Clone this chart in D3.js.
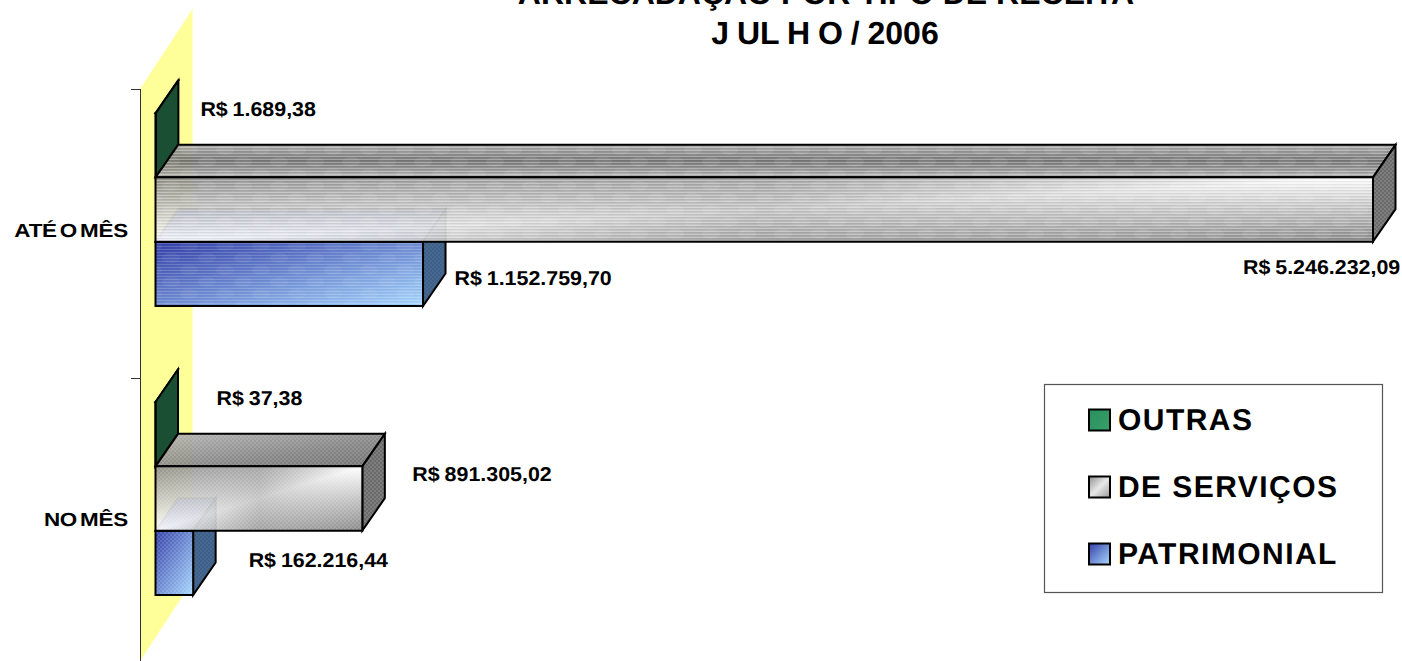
<!DOCTYPE html>
<html><head><meta charset="utf-8">
<script src="https://cdnjs.cloudflare.com/ajax/libs/d3/7.8.5/d3.min.js"></script>
<style>html,body{margin:0;padding:0;background:#fff;overflow:hidden}svg{display:block}text{font-family:"Liberation Sans",Arial,sans-serif;font-weight:bold;fill:#000;text-rendering:geometricPrecision}</style>
</head><body><svg id="c" width="1402" height="661"></svg>
<script>
const categories = ["ATÉ O MÊS", "NO MÊS"];
const seriesNames = ["OUTRAS", "DE SERVIÇOS", "PATRIMONIAL"];
const outras = [1689.38, 37.38];
const servicos = [5246232.09, 891305.02];
const patrimonial = [1152759.70, 162216.44];
const titleLines = ["ARRECADAÇÃO POR TIPO DE RECEITA", "J UL H O / 2006"];

const svg = d3.select("#c");
const defs = svg.append("defs");
const br = d3.formatLocale({decimal:",",thousands:".",grouping:[3],currency:["R$ ",""]}).format("$,.2f");

function grad(id, stops, x2, y2){
  const g = defs.append("linearGradient").attr("id",id).attr("x1",0).attr("y1",0).attr("x2",x2==null?1:x2).attr("y2",y2==null?1:y2);
  stops.forEach(s=>g.append("stop").attr("offset",s[0]).attr("stop-color",s[1]).attr("stop-opacity",s[2]==null?1:s[2]));
}
grad("gServ",[[0,"#848484",.9],[.5,"#ffffff",.9],[1,"#7c7c7c",.9]]);
grad("gServMid",[[0,"#707070",0],[.5,"#707070",.4],[1,"#707070",0]],1,0);
grad("gServTop",[[0,"#a6a6a6",.92],[.5,"#6c6c6c",.92],[1,"#b0b0b0",.92]],0,1);
grad("gServTop2",[[0,"#b0b0b0",.92],[.6,"#7c7c7c",.92],[1,"#666",.92]]);
grad("gPat",[[0,"#3440a8"],[1,"#a9d8ff"]]);
grad("gOut",[[0,"#2a8f5c"],[1,"#38a06c"]]);
grad("gLegS",[[0,"#8e8e8e"],[.5,"#e8e8e8"],[1,"#9a9a9a"]]);

function stripes(id,op,dark,blot){
  const p = defs.append("pattern").attr("id",id).attr("patternUnits","userSpaceOnUse").attr("width",36).attr("height",24);
  d3.range(0,24,3).forEach(y=>{
    p.append("rect").attr("x",0).attr("y",y).attr("width",36).attr("height",1).attr("fill","#fff").attr("opacity",op);
    p.append("rect").attr("x",0).attr("y",y+1).attr("width",36).attr("height",1).attr("fill","#000").attr("opacity",dark);
  });
  [[9,6],[27,18]].forEach(c=>p.append("ellipse").attr("cx",c[0]).attr("cy",c[1]).attr("rx",9).attr("ry",5).attr("fill","#fff").attr("opacity",blot));
}
stripes("stServ",.3,.06,.07);
stripes("stPat",.17,.03,.05);
function dots(id,color,op){
  const p = defs.append("pattern").attr("id",id).attr("patternUnits","userSpaceOnUse").attr("width",4).attr("height",4);
  p.append("circle").attr("cx",1).attr("cy",1).attr("r",.8).attr("fill",color).attr("opacity",op);
  p.append("circle").attr("cx",3).attr("cy",3).attr("r",.8).attr("fill",color).attr("opacity",op);
}
dots("dtLight","#fff",.3);
dots("dtDark","#000",.22);

const x = d3.scaleLinear().domain([0,5246232.09]).range([155.5,1373]);
const y = d3.scaleBand().domain(categories).range([89,667]);
const s = d3.scaleBand().domain(seriesNames).range([24,217]);
const dx = 22.5, dy = -32.5;
const wallDx = 52.5, wallDy = -80;
const line = d3.line();

svg.append("path").attr("fill","#ffff99").attr("d",line([[140,y.range()[0]],[140+wallDx,y.range()[0]+wallDy],[140+wallDx,661+wallDy],[140,661]])+"Z");
svg.append("path").attr("stroke","#333").attr("stroke-width",1).attr("fill","none").attr("d","M140.5,89V661");
svg.selectAll(".tick").data(categories).join("line").attr("x1",131).attr("x2",140).attr("y1",d=>Math.round(y(d))+.5).attr("y2",d=>Math.round(y(d))+.5).attr("stroke","#333");

function put(txt,px,py,size,sxv,anchor,ws,ls){
  return svg.append("text").attr("transform",`translate(${px},${py}) scale(${sxv},1)`).attr("text-anchor",anchor||"start")
    .attr("font-size",size).attr("word-spacing",ws||0).attr("letter-spacing",ls||0).text(txt);
}

function box(v,cat,name,front,top,side,overlays,extra,topStroke){
  const x0=x(0), x1=x(v), y0=y(cat)+s(name), y1=y0+s.bandwidth();
  const faces=[
    {pts:[[x0,y0],[x0+dx,y0+dy],[x1+dx,y0+dy],[x1,y0]],fill:top,ov:overlays[0],stroke:topStroke||1},
    {pts:[[x1,y0],[x1+dx,y0+dy],[x1+dx,y1+dy],[x1,y1]],fill:side,ov:overlays[1],stroke:1},
    {pts:[[x0,y0],[x1,y0],[x1,y1],[x0,y1]],fill:front,ov:overlays[2],stroke:1,extra:extra}
  ];
  const g=svg.append("g");
  faces.forEach(f=>{
    const d=line(f.pts)+"Z";
    g.append("path").attr("d",d).attr("fill",f.fill);
    if(f.extra) g.append("path").attr("d",d).attr("fill",f.extra);
    if(f.ov) g.append("path").attr("d",d).attr("fill",`url(#${f.ov})`);
    g.append("path").attr("d",d).attr("fill","none").attr("stroke","#000").attr("stroke-opacity",f.stroke).attr("stroke-width",2);
  });
}

categories.forEach((c,i)=>{
  const ov = i===0 ? "stServ" : "dtLight", ovp = i===0 ? "stPat" : "dtLight";
  box(outras[i],c,"OUTRAS","#1b4f33","#1b4f33","#1b4f33",[null,null,null]);
  box(patrimonial[i],c,"PATRIMONIAL","url(#gPat)","#6f88e6","#466993",[ovp,"dtDark",ovp],null,.5);
  box(servicos[i],c,"DE SERVIÇOS","url(#gServ)",i===0?"url(#gServTop)":"url(#gServTop2)","#6a6a6a",[ov,"dtLight",ov],"url(#gServMid)");
});

const labelOffsets = {
 "OUTRAS":[[44.5,-61],[61,-61]],
 "DE SERVIÇOS":[[-130,32],[50,-49.5]],
 "PATRIMONIAL":[[31.5,-21],[55.5,-28]]
};
const serData = {"OUTRAS":outras,"DE SERVIÇOS":servicos,"PATRIMONIAL":patrimonial};
seriesNames.forEach(n=>categories.forEach((c,i)=>{
  const v=serData[n][i];
  const o=labelOffsets[n][i];
  put(br(v), x(v)+o[0], y(c)+s(n)+s.bandwidth()+o[1], 20, 1.07, "start", -1);
}));

categories.forEach(c=>put(c,128,y(c)+148,19,1.18,"end",-2.5,-.2));

put(titleLines[0],826,4,32,1,"middle",0,0);
put(titleLines[1],825,44,32,1,"middle",-1,0);

svg.append("rect").attr("x",1044.5).attr("y",384.5).attr("width",338).attr("height",208).attr("fill","#fff").attr("stroke","#555").attr("stroke-width",1.2);
const legendFill=["url(#gOut)","url(#gLegS)","url(#gPat)"];
const legY=d3.scalePoint().domain(seriesNames).range([420,554]);
seriesNames.forEach((n,i)=>{
  svg.append("rect").attr("x",1089).attr("y",legY(n)-10.5).attr("width",21).attr("height",21).attr("fill",legendFill[i]).attr("stroke","#000").attr("stroke-width",2);
  put(n,1118,legY(n)+10,30,1,"start",0,1.45);
});
</script></body></html>
